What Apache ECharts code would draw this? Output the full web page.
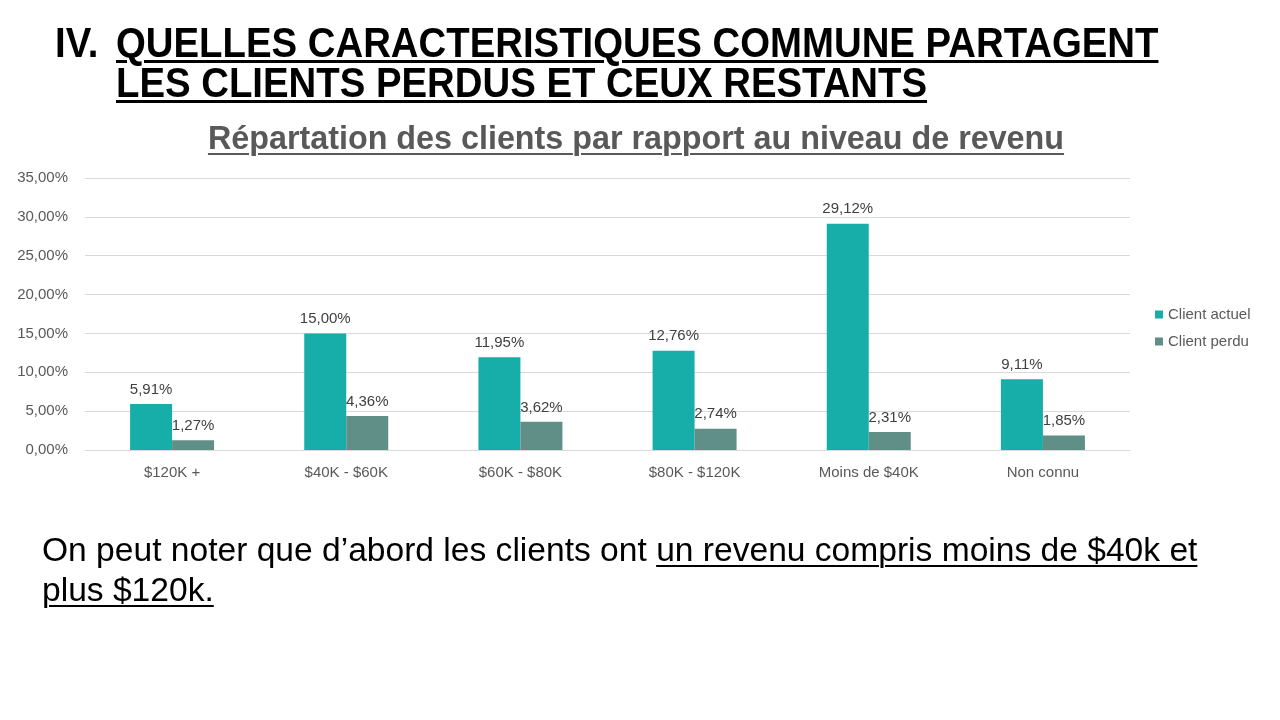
<!DOCTYPE html>
<html><head><meta charset="utf-8">
<script src="https://cdn.jsdelivr.net/npm/echarts@6/dist/echarts.min.js"></script>
<style>
html,body{margin:0;padding:0;background:#fff;width:1280px;height:720px;overflow:hidden;}
#chart{position:absolute;left:0;top:0;width:1280px;height:720px;}
.t{position:absolute;font-family:"Liberation Sans",Arial,sans-serif;font-weight:bold;font-size:42px;line-height:40px;color:#000;transform-origin:0 0;transform:scaleX(0.913);white-space:nowrap;}
#ct{position:absolute;left:0;width:1272px;top:120px;text-align:center;font-family:"Liberation Sans",Arial,sans-serif;font-weight:bold;font-size:32.3px;color:#595959;}
#bt{position:absolute;left:42px;top:530px;width:1200px;font-family:"Liberation Sans",Arial,sans-serif;font-size:33.6px;line-height:40px;color:#000;}
u{text-decoration:underline;text-underline-offset:4px;text-decoration-thickness:2px;}
.t u{text-underline-offset:3px;text-decoration-thickness:3px;}
</style></head>
<body>
<div id="chart"></div>
<div class="t" style="left:55px;top:23px;">IV.</div>
<div class="t" style="left:116px;top:23px;"><u>QUELLES CARACTERISTIQUES COMMUNE PARTAGENT</u><br><u>LES CLIENTS PERDUS ET CEUX RESTANTS</u></div>
<div id="ct"><u>Répartation des clients par rapport au niveau de revenu</u></div>
<div id="bt">On peut noter que d’abord les clients ont <u>un revenu compris moins de $40k et plus $120k.</u></div>
<script>
const categories = ["$120K +", "$40K - $60K", "$60K - $80K", "$80K - $120K", "Moins de $40K", "Non connu"];
const clientActuel = [5.91, 15.00, 11.95, 12.76, 29.12, 9.11];
const clientPerdu = [1.27, 4.36, 3.62, 2.74, 2.31, 1.85];
const seriesNames = ["Client actuel", "Client perdu"];

const fmt = v => v.toFixed(2).replace('.', ',') + '%';
const font = '"Liberation Sans", Arial, sans-serif';
const chart = echarts.init(document.getElementById('chart'));
chart.setOption({
  animation: false,
  textStyle: {fontFamily: font},
  grid: {left: 85, right: 150, top: 178, bottom: 270, containLabel: false},
  legend: {
    orient: 'vertical', left: 1150, top: 302, itemWidth: 8, itemHeight: 8, itemGap: 12,
    icon: 'rect',
    textStyle: {fontSize: 15, color: '#595959', fontFamily: font},
    data: seriesNames
  },
  xAxis: {
    type: 'category', data: categories,
    axisLine: {lineStyle: {color: '#d9d9d9'}},
    axisTick: {show: false},
    axisLabel: {fontSize: 15, color: '#595959', margin: 15}
  },
  yAxis: {
    type: 'value', min: 0, max: 35, interval: 5,
    axisLine: {show: false}, axisTick: {show: false},
    splitLine: {lineStyle: {color: '#d9d9d9'}},
    axisLabel: {fontSize: 15, color: '#595959', margin: 17, formatter: v => fmt(v)}
  },
  series: [
    {name: seriesNames[0], type: 'bar', data: clientActuel, barWidth: 42, barGap: '0%',
     itemStyle: {color: '#17ada8'},
     label: {show: true, position: 'top', distance: 7, fontSize: 15, color: '#404040', formatter: p => fmt(p.value)}},
    {name: seriesNames[1], type: 'bar', data: clientPerdu, barWidth: 42, barGap: '0%',
     itemStyle: {color: '#5f8f86'},
     label: {show: true, position: 'top', distance: 7, fontSize: 15, color: '#404040', formatter: p => fmt(p.value)}}
  ]
});
</script>
</body></html>
